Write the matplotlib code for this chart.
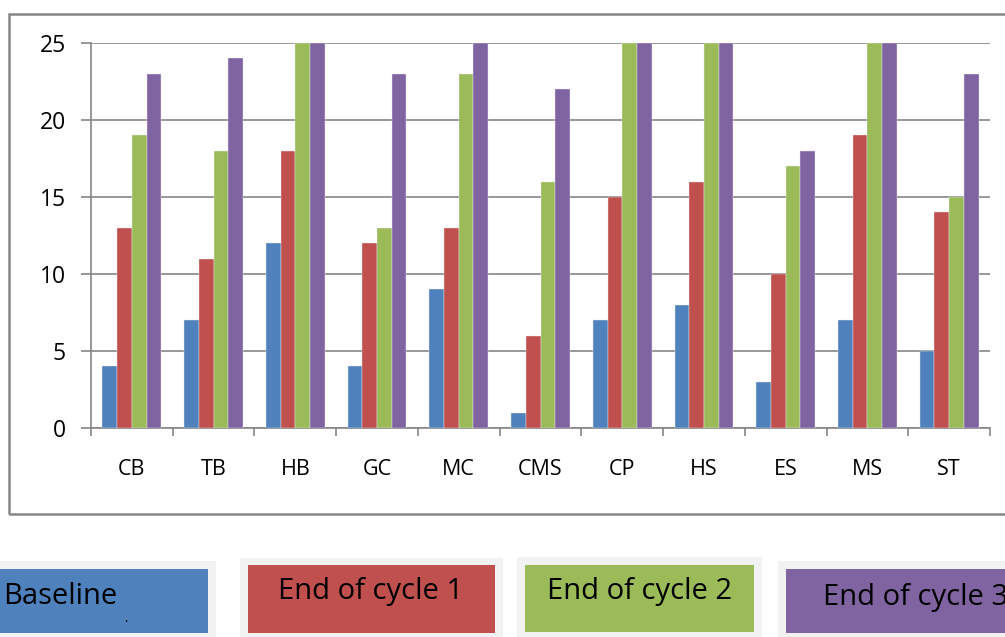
import matplotlib
matplotlib.use("Agg")
import matplotlib.pyplot as plt
import numpy as np
from matplotlib.patches import Rectangle

# Data (bars at 25 are clipped at the axis top)
categories = ["CB", "TB", "HB", "GC", "MC", "CMS", "CP", "HS", "ES", "MS", "ST"]
baseline = [4, 7, 12, 4, 9, 1, 7, 8, 3, 7, 5]
cycle1 = [13, 11, 18, 12, 13, 6, 15, 16, 10, 19, 14]
cycle2 = [19, 18, 25, 13, 23, 16, 25, 25, 17, 25, 15]
cycle3 = [23, 24, 25, 23, 25, 22, 25, 25, 18, 25, 23]
series_labels = ["Baseline", "End of cycle 1", "End of cycle 2", "End of cycle 3"]
yticks = [0, 5, 10, 15, 20, 25]

COLORS = ["#4F81BD", "#C0504D", "#9BBB59", "#8064A2"]
GRID = "#868686"

plt.rcParams["font.family"] = ["Open Sans", "DejaVu Sans"]

W, H = 1005, 637
fig = plt.figure(figsize=(W / 100, H / 100), dpi=100)


def fx(x):
    return x / W


def fy(y):
    return 1 - y / H


ax = fig.add_axes([fx(91), fy(428), fx(990) - fx(91), fy(43) - fy(428)])

x = np.arange(len(categories))
bw = 0.18
for i, vals in enumerate([baseline, cycle1, cycle2, cycle3]):
    ax.bar(x + (i - 1.5) * bw, vals, width=bw, color=COLORS[i],
           edgecolor="#E8E8F0", linewidth=0.3, zorder=3)

ax.set_xlim(-0.5, len(categories) - 0.5)
ax.set_ylim(0, 25)
ax.set_yticks(yticks)
ax.set_yticklabels([str(t) for t in yticks])
ax.set_xticks(x)
ax.set_xticklabels(categories)
ax.set_xticks(np.arange(len(categories) + 1) - 0.5, minor=True)

ax.yaxis.grid(True, color=GRID, linewidth=1.2, zorder=0)
ax.set_axisbelow(True)
for s in ("top", "right"):
    ax.spines[s].set_visible(False)
for s in ("left", "bottom"):
    ax.spines[s].set_color(GRID)
    ax.spines[s].set_linewidth(1.2)

ax.tick_params(axis="y", length=7, width=1.2, color=GRID, pad=11,
               labelsize=16.5, labelcolor="black")
ax.tick_params(axis="x", which="major", length=0, pad=22,
               labelsize=15.5, labelcolor="black")
ax.tick_params(axis="x", which="minor", length=6, width=1.2, color=GRID)

# outer chart frame
fig.patches.append(Rectangle((fx(9), fy(514)), fx(1010) - fx(9), fy(14) - fy(514),
                             transform=fig.transFigure, fill=False,
                             edgecolor=GRID, linewidth=1.8))

# legend boxes drawn as separate shapes below the chart
boxes = [
    # gray bg (x0, y0, x1, y1), colored (x0, y0, x1, y1), text x, text y, ha
    ((0, 561, 216, 637), (0, 569, 208, 633), 3, 597, "left"),
    ((240, 558, 503, 637), (248, 565, 495, 633), 371, 592, "center"),
    ((517, 557, 762, 637), (525, 565, 754, 632), 640, 592, "center"),
    ((778, 561, 1005, 637), (786, 569, 1005, 633), 823, 597, "left"),
]
for (g, c, tx, ty, ha), lab, col in zip(boxes, series_labels, COLORS):
    fig.patches.append(Rectangle((fx(g[0]), fy(g[3])), fx(g[2]) - fx(g[0]),
                                 fy(g[1]) - fy(g[3]), transform=fig.transFigure,
                                 facecolor="#F2F2F2", edgecolor="none"))
    fig.patches.append(Rectangle((fx(c[0]), fy(c[3])), fx(c[2]) - fx(c[0]),
                                 fy(c[1]) - fy(c[3]), transform=fig.transFigure,
                                 facecolor=col, edgecolor="none"))
    fig.text(fx(tx), fy(ty), lab, ha=ha, va="center", fontsize=21, color="black")

fig.text(fx(126), fy(619), ".", ha="center", va="center", fontsize=9, color="black")

fig.savefig("out.png", dpi=100)
